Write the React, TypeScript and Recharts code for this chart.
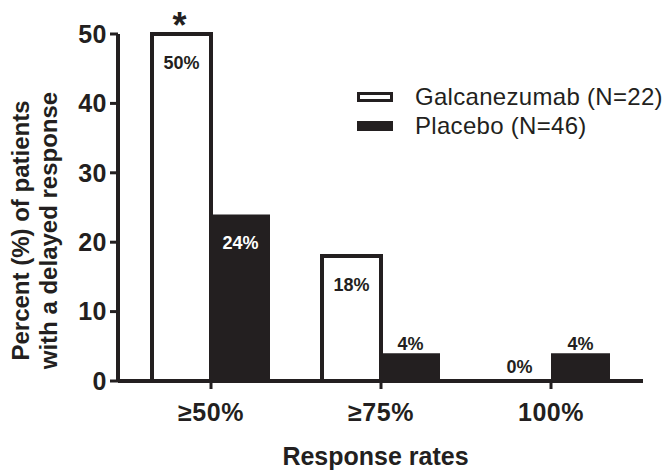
import { BarChart, Bar, XAxis, YAxis, Legend, LabelList, Label } from 'recharts';

const CATEGORIES = ['≥50%', '≥75%', '100%'];
const GALCANEZUMAB = [50, 18, 0];
const PLACEBO = [24, 4, 4];
const SIGNIFICANT = ['*', '', ''];
const Y_TICKS = [0, 10, 20, 30, 40, 50];
const SERIES_NAMES = ['Galcanezumab (N=22)', 'Placebo (N=46)'];
const Y_TITLE = ['Percent (%) of patients', 'with a delayed response'];
const X_TITLE = 'Response rates';

const INK = '#231f20';
const FONT = 'Arial, "Liberation Sans", Helvetica, sans-serif';

const data = CATEGORIES.map((category, i) => ({
  category,
  galc: GALCANEZUMAB[i],
  placebo: PLACEBO[i],
  mark: SIGNIFICANT[i],
}));

const labelText = {
  textAnchor: 'middle' as const,
  fontSize: 18,
  fontWeight: 'bold',
  fontFamily: FONT,
};

// value labels for the open (Galcanezumab) bars, plus the significance star
const galcLabel = (props: any) => {
  const { x, y, width, value, index } = props;
  if (!value) return null;
  const cx = x + width / 2;
  const star = SIGNIFICANT[index];
  return (
    <g>
      <text x={cx} y={y + 35} fill={INK} {...labelText}>
        {value}%
      </text>
      {star && (
        <text x={cx - 2} y={y + 4} textAnchor="middle" fill={INK} fontSize={36} fontWeight="bold" fontFamily={FONT}>
          {star}
        </text>
      )}
    </g>
  );
};

// filled bars: white text inside when tall, dark text on top when short.
// a zero-height open bar gets no label of its own, so its "0%" is drawn here
// next to its neighbour, just above the baseline
const placeboLabel = (props: any) => {
  const { x, y, width, height, value, index } = props;
  const cx = x + width / 2;
  const inside = value >= 10;
  const galc = GALCANEZUMAB[index];
  return (
    <g>
      <text x={cx} y={inside ? y + 35 : y - 3} fill={inside ? '#ffffff' : INK} {...labelText}>
        {value}%
      </text>
      {galc === 0 && (
        <text x={cx - width - 2} y={y + height - 8} fill={INK} {...labelText}>
          {galc}%
        </text>
      )}
    </g>
  );
};

const yTitle = (props: any) => {
  const { viewBox } = props;
  const cy = viewBox.y + viewBox.height / 2 + 23;
  return (
    <g fontFamily={FONT} fontWeight="bold" fontSize={24} fill={INK}>
      {Y_TITLE.map((line, i) => {
        const lx = 29 + i * 28;
        return (
          <text key={line} x={lx} y={cy} textAnchor="middle" transform={`rotate(-90, ${lx}, ${cy})`}>
            {line}
          </text>
        );
      })}
    </g>
  );
};

const legendContent = (props: any) => {
  const { payload = [] } = props;
  return (
    <div style={{ fontFamily: FONT, fontSize: 24, letterSpacing: 0.3, color: INK }}>
      {payload.map((entry: any) => {
        const open = entry.value === SERIES_NAMES[0];
        return (
          <div key={entry.value} style={{ display: 'flex', alignItems: 'center', height: 29 }}>
            <span
              style={{
                display: 'inline-block',
                boxSizing: 'border-box',
                width: 36,
                height: 10,
                background: open ? '#ffffff' : INK,
                border: `3px solid ${INK}`,
                marginRight: 22,
              }}
            />
            <span style={{ whiteSpace: 'nowrap' }}>{entry.value}</span>
          </div>
        );
      })}
    </div>
  );
};

const tickStyle = { fill: INK, fontSize: 25, fontWeight: 'bold', fontFamily: FONT, letterSpacing: 0.5 };

export default function App() {
  return (
    <div style={{ position: 'absolute', left: 0, top: 0, width: 672, height: 470, background: '#ffffff' }}>
      <BarChart
        width={672}
        height={470}
        data={data}
        margin={{ top: 34, right: 29, bottom: 0, left: 0 }}
        barCategoryGap={26}
        barGap={0}
      >
        <XAxis
          dataKey="category"
          height={89}
          padding={{ left: 8, right: 7 }}
          axisLine={{ stroke: INK, strokeWidth: 4 }}
          tickLine={{ stroke: INK, strokeWidth: 3 }}
          tickSize={8}
          tickMargin={14}
          tick={tickStyle}
        >
          <Label
            value={X_TITLE}
            position="insideBottom"
            offset={5}
            dx={-5}
            fill={INK}
            fontSize={25}
            fontWeight="bold"
            fontFamily={FONT}
          />
        </XAxis>
        <YAxis
          width={118}
          domain={[0, 50]}
          ticks={Y_TICKS}
          interval={0}
          axisLine={{ stroke: INK, strokeWidth: 4 }}
          tickLine={{ stroke: INK, strokeWidth: 3 }}
          tickSize={8}
          tickMargin={3}
          tick={tickStyle}
          label={yTitle}
        />
        <Legend
          layout="vertical"
          verticalAlign="middle"
          align="center"
          content={legendContent}
          wrapperStyle={{ position: 'absolute', left: 357, top: 82, width: 'auto' }}
        />
        <Bar dataKey="galc" name={SERIES_NAMES[0]} fill="#ffffff" stroke={INK} strokeWidth={4} isAnimationActive={false}>
          <LabelList dataKey="galc" content={galcLabel} />
        </Bar>
        <Bar dataKey="placebo" name={SERIES_NAMES[1]} fill={INK} isAnimationActive={false}>
          <LabelList dataKey="placebo" content={placeboLabel} />
        </Bar>
      </BarChart>
    </div>
  );
}
